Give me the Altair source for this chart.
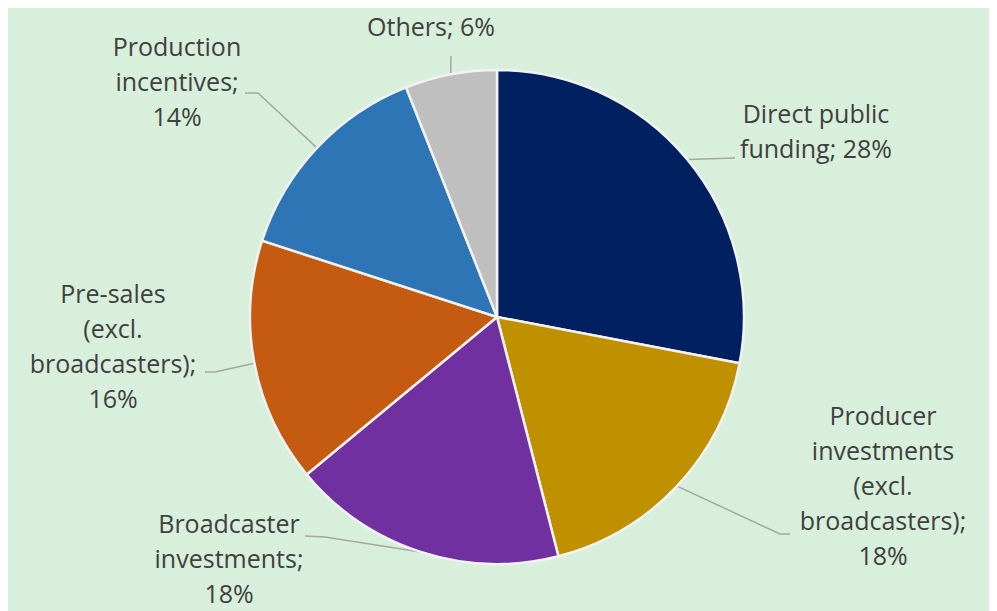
import math
import altair as alt
import pandas as pd

# ---- data ----
categories = [
    "Direct public funding",
    "Producer investments (excl. broadcasters)",
    "Broadcaster investments",
    "Pre-sales (excl. broadcasters)",
    "Production incentives",
    "Others",
]
shares = [28, 18, 18, 16, 14, 6]
label_texts = [
    "Direct public\nfunding; 28%",
    "Producer\ninvestments\n(excl.\nbroadcasters);\n18%",
    "Broadcaster\ninvestments;\n18%",
    "Pre-sales\n(excl.\nbroadcasters);\n16%",
    "Production\nincentives;\n14%",
    "Others; 6%",
]
colors = ["#002060", "#bf9000", "#7030a0", "#c55a11", "#2e75b6", "#bfbfbf"]

# ---- layout (pixels relative to pie centre, y up; label = first line) ----
R = 247
label_pos = [(319, 202), (386, -100), (-268, -208), (-384, 22), (-320, 269), (-66, 289)]
leader_stub = [
    [(238, 159)],
    [(293, -217), (283, -217)],
    [(-192, -219), (-172, -220)],
    [(-292, -55), (-282, -55)],
    [(-252, 224), (-239, 224)],
    [(-46, 261)],
]

W, H = 981, 603
CX, CY = 489, 309

pie_df = pd.DataFrame({
    "category": categories,
    "share": shares,
    "idx": list(range(len(categories))),
})

lab_df = pd.DataFrame({
    "category": categories,
    "label": label_texts,
    "x": [p[0] for p in label_pos],
    "y": [p[1] for p in label_pos],
})

rows = []
total = sum(shares)
cum = 0
for i, (cat, s) in enumerate(zip(categories, shares)):
    mid = (cum + s / 2) / total * 2 * math.pi
    cum += s
    pts = list(leader_stub[i]) + [(R * math.sin(mid), R * math.cos(mid))]
    for k, (px, py) in enumerate(pts):
        rows.append({"category": cat, "k": k, "x": px, "y": py})
lead_df = pd.DataFrame(rows)

xs = alt.Scale(domain=[-CX, W - CX], range=[0, W], zero=False, nice=False)
ys = alt.Scale(domain=[-(H - CY), CY], range=[H, 0], zero=False, nice=False)

pie = alt.Chart(pie_df).mark_arc(
    outerRadius=R, stroke="#f2f2f2", strokeWidth=2.5
).encode(
    theta=alt.Theta("share:Q", stack=True),
    order=alt.Order("idx:Q"),
    color=alt.Color("category:N", scale=alt.Scale(domain=categories, range=colors), legend=None),
    x=alt.value(CX),
    y=alt.value(CY),
)

leaders = alt.Chart(lead_df).mark_line(color="#a6a6a6", strokeWidth=1.5).encode(
    x=alt.X("x:Q", scale=xs, axis=None),
    y=alt.Y("y:Q", scale=ys, axis=None),
    detail="category:N",
    order="k:Q",
)

labels = alt.Chart(lab_df).mark_text(
    font="Open Sans", fontSize=25, lineHeight=35, color="#404040",
    align="center", baseline="middle", lineBreak="\n",
).encode(
    x=alt.X("x:Q", scale=xs, axis=None),
    y=alt.Y("y:Q", scale=ys, axis=None),
    text="label:N",
)

chart = alt.layer(leaders, pie, labels).properties(
    width=W, height=H, padding=0, autosize=alt.AutoSizeParams(type="none"),
    background="#d8efdc",
).configure_view(stroke=None)

chart.save("out.html", embed_options={"renderer": "svg", "actions": False})
